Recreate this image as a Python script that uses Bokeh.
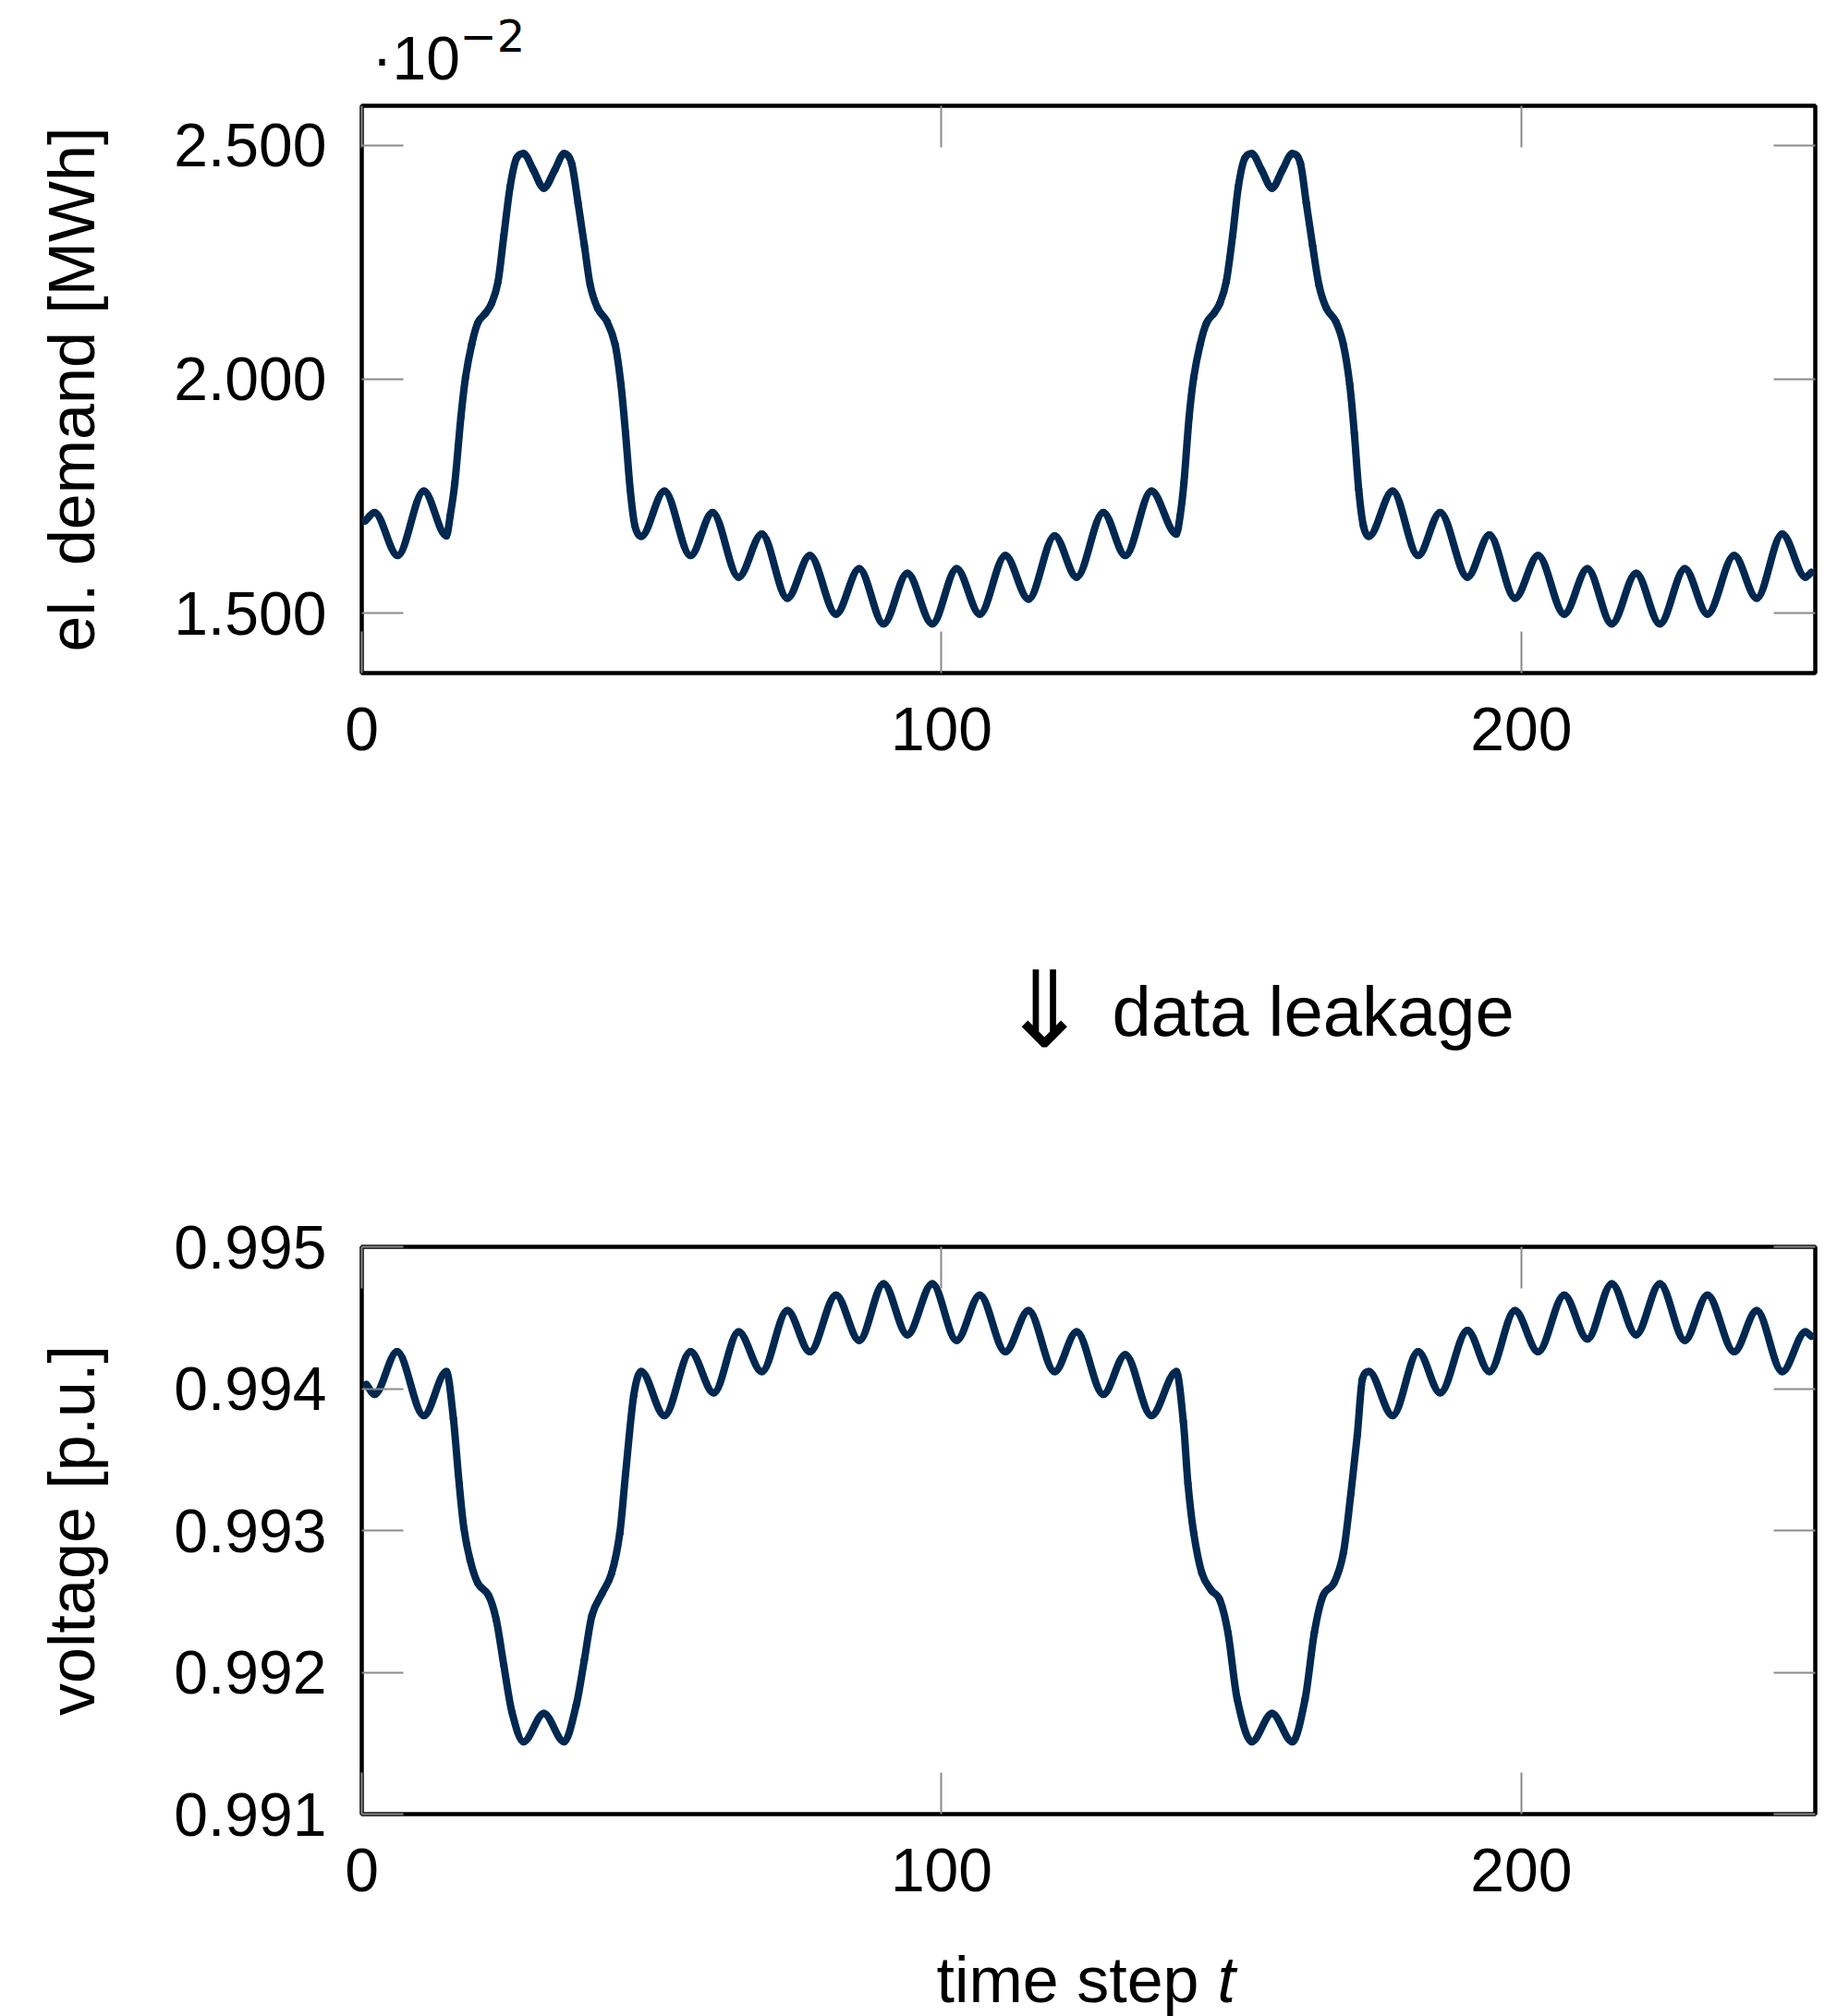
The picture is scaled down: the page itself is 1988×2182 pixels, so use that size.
from bokeh.plotting import figure
from bokeh.models import (Range1d, FixedTicker, LinearAxis, PrintfTickFormatter,
                          ColumnDataSource)
from bokeh.core.properties import value
from bokeh.layouts import column
from bokeh.embed import file_html
from bokeh.resources import INLINE

# ---------------- data ----------------
x_ticks = [0, 100, 200]
demand_ticks = [1.5, 2.0, 2.5]
voltage_ticks = [0.991, 0.992, 0.993, 0.994, 0.995]

demand_t = [0.6, 2.2, 6.2, 10.7, 14.6, 15.25, 16.05, 17.1, 17.9, 18.96, 20.0, 21.35,
            22.4, 23.5, 24.5, 25.6, 26.7, 27.9, 29.6, 31.4, 33.3, 34.9, 36.2, 37.3,
            38.4, 39.4, 40.7, 42.3, 43.7, 44.7, 45.5, 46.3, 47.1, 48.2, 52.2, 56.7,
            60.5, 65.0, 69.0, 73.4, 77.3, 81.8, 85.8, 90.0, 94.1, 98.4, 102.6, 106.6,
            111.0, 115.0, 119.5, 123.3, 127.9, 131.7, 136.2, 140.5, 141.15, 141.8,
            142.7, 143.5, 144.6, 145.7, 147.0, 148.0, 149.1, 150.2, 151.2, 152.3,
            153.5, 155.2, 157.0, 158.8, 160.5, 161.9, 162.9, 164.0, 165.1, 166.4,
            168.0, 169.3, 170.4, 171.2, 171.95, 172.75, 173.7, 177.8, 182.2, 186.0,
            190.7, 194.5, 198.9, 202.9, 207.4, 211.4, 215.6, 219.8, 223.9, 228.2,
            232.1, 236.7, 240.6, 245.0, 249.0, 250.0]
demand_v = [1.697, 1.715, 1.623, 1.761, 1.665, 1.708, 1.778, 1.919, 2.004, 2.074, 2.120,
            2.141, 2.162, 2.208, 2.306, 2.412, 2.472, 2.482, 2.447, 2.408, 2.447, 2.482,
            2.461, 2.377, 2.285, 2.201, 2.151, 2.123, 2.074, 1.989, 1.884, 1.764, 1.687,
            1.664, 1.761, 1.623, 1.715, 1.577, 1.669, 1.532, 1.623, 1.498, 1.595, 1.477,
            1.585, 1.477, 1.595, 1.498, 1.623, 1.530, 1.665, 1.577, 1.715, 1.623, 1.761,
            1.669, 1.708, 1.778, 1.919, 2.004, 2.074, 2.120, 2.141, 2.162, 2.208, 2.306,
            2.412, 2.472, 2.482, 2.447, 2.408, 2.447, 2.482, 2.461, 2.377, 2.285, 2.201,
            2.151, 2.123, 2.074, 1.989, 1.884, 1.764, 1.687, 1.664, 1.761, 1.623, 1.715,
            1.577, 1.667, 1.532, 1.623, 1.498, 1.595, 1.477, 1.585, 1.477, 1.595, 1.498,
            1.623, 1.532, 1.669, 1.577, 1.587]

voltage_t = [0.8, 2.2, 6.1, 10.7, 14.6, 15.8, 16.8, 17.6, 18.7, 20.0, 21.9, 23.2, 24.5,
             25.9, 27.9, 31.4, 34.9, 37.0, 38.4, 39.7, 41.5, 43.1, 44.5, 45.5, 46.9, 48.2,
             52.2, 56.7, 60.7, 65.0, 69.0, 73.4, 77.3, 81.8, 85.8, 90.0, 94.1, 98.4,
             102.6, 106.6, 111.0, 115.0, 119.5, 123.3, 127.9, 131.7, 136.2, 140.5, 141.7,
             142.5, 143.5, 144.9, 146.5, 148.0, 149.4, 151.0, 153.5, 157.0, 160.5, 162.7,
             164.3, 165.8, 167.7, 169.3, 170.6, 171.7, 172.6, 173.7, 177.8, 182.2, 186.0,
             190.7, 194.5, 198.9, 202.9, 207.4, 211.4, 215.6, 219.8, 223.9, 228.2, 232.1,
             236.7, 240.6, 245.0, 249.0, 250.0]
voltage_v = [0.99403, 0.99396, 0.99426, 0.99381, 0.99412, 0.99379, 0.99333, 0.99302,
             0.99279, 0.99263, 0.99254, 0.99237, 0.99205, 0.99172, 0.99151, 0.99171,
             0.99151, 0.99177, 0.99209, 0.99240, 0.99256, 0.99270, 0.99298, 0.99340,
             0.99395, 0.99412, 0.99381, 0.99426, 0.99397, 0.99440, 0.99412, 0.99455,
             0.99426, 0.99466, 0.99434, 0.99474, 0.99438, 0.99474, 0.99434, 0.99466,
             0.99426, 0.99455, 0.99412, 0.99440, 0.99396, 0.99424, 0.99381, 0.99412,
             0.99377, 0.99333, 0.99298, 0.99270, 0.99258, 0.99251, 0.99228, 0.99181,
             0.99151, 0.99171, 0.99151, 0.99181, 0.99228, 0.99254, 0.99263, 0.99284,
             0.99326, 0.99367, 0.99407, 0.99412, 0.99381, 0.99426, 0.99397, 0.99441,
             0.99412, 0.99455, 0.99426, 0.99466, 0.99435, 0.99474, 0.99438, 0.99474,
             0.99434, 0.99466, 0.99426, 0.99455, 0.99412, 0.99440, 0.99437]

# ---------------- style ----------------
LINE_COLOR = "#002850"
FONT = "Liberation Sans"
TICK_COLOR = "#8a8a8a"
TICK_LEN = 45
W = 1988
LEFT = 391      # frame left edge (px)
RIGHT = 24      # space right of the frame (px)


def smooth_segments(t, v):
    """Cubic Bezier control points (monotone Hermite) so the browser draws a smooth curve."""
    n = len(t)
    d = [(v[i + 1] - v[i]) / (t[i + 1] - t[i]) for i in range(n - 1)]
    m = []
    for i in range(n):
        if i == 0:
            m.append(d[0])
        elif i == n - 1:
            m.append(d[-1])
        elif d[i - 1] * d[i] <= 0:
            m.append(0.0)
        else:
            s = (v[i + 1] - v[i - 1]) / (t[i + 1] - t[i - 1])
            lim = 3 * min(abs(d[i - 1]), abs(d[i]))
            if abs(s) > lim:
                s = lim if s > 0 else -lim
            m.append(s)
    seg = dict(x0=[], y0=[], x1=[], y1=[], cx0=[], cy0=[], cx1=[], cy1=[])
    for i in range(n - 1):
        h = t[i + 1] - t[i]
        seg["x0"].append(t[i]); seg["y0"].append(v[i])
        seg["x1"].append(t[i + 1]); seg["y1"].append(v[i + 1])
        seg["cx0"].append(t[i] + h / 3); seg["cy0"].append(v[i] + m[i] * h / 3)
        seg["cx1"].append(t[i + 1] - h / 3); seg["cy1"].append(v[i + 1] - m[i + 1] * h / 3)
    return ColumnDataSource(seg)


def style_axis(ax, ticks, fmt=None, labels=True):
    ax.ticker = FixedTicker(ticks=ticks)
    ax.major_tick_in = TICK_LEN
    ax.major_tick_out = 0
    ax.minor_tick_line_color = None
    ax.axis_line_color = None
    ax.major_tick_line_color = TICK_COLOR
    ax.major_tick_line_width = 2
    if fmt is not None:
        ax.formatter = fmt
    if labels:
        ax.major_label_text_font = FONT
        ax.major_label_text_font_size = "66px"
        ax.major_label_text_color = "black"
    else:
        ax.major_label_text_color = None
        ax.major_label_text_font_size = "1px"
        ax.major_label_standoff = 0


def make_fig(height, top, bottom, yr, yticks, ylabel):
    p = figure(width=W, height=height, x_range=Range1d(0, 250.7), y_range=Range1d(*yr),
               output_backend="svg", toolbar_location=None,
               min_border_left=LEFT, min_border_right=RIGHT,
               min_border_top=top, min_border_bottom=bottom)
    p.xgrid.visible = False
    p.ygrid.visible = False
    p.outline_line_color = "black"
    p.outline_line_width = 4.5
    p.background_fill_color = "white"
    p.border_fill_color = "white"
    style_axis(p.xaxis[0], x_ticks)
    p.xaxis[0].major_label_standoff = 37
    style_axis(p.yaxis[0], yticks, PrintfTickFormatter(format="%.3f"))
    p.yaxis[0].major_label_standoff = 38
    p.yaxis[0].axis_label = ylabel
    p.yaxis[0].axis_label_text_font = FONT
    p.yaxis[0].axis_label_text_font_size = "70px"
    p.yaxis[0].axis_label_text_font_style = "normal"
    p.yaxis[0].axis_label_text_color = "black"
    p.yaxis[0].axis_label_standoff = 68
    ra = LinearAxis()
    style_axis(ra, yticks, labels=False)
    p.add_layout(ra, "right")
    ta = LinearAxis()
    style_axis(ta, x_ticks, labels=False)
    p.add_layout(ta, "above")
    return p


def strip(height):
    """Blank band for free-standing texts; its frame lines up with the plot frames,
    so x is in page pixels and y is measured from the band's top."""
    s = figure(width=W, height=height, x_range=Range1d(LEFT, W - RIGHT),
               y_range=Range1d(height, 0),
               output_backend="svg", toolbar_location=None,
               x_axis_location=None, y_axis_location=None,
               min_border_left=LEFT, min_border_right=RIGHT,
               min_border_top=0, min_border_bottom=0)
    s.xgrid.visible = False
    s.ygrid.visible = False
    s.outline_line_color = None
    s.background_fill_color = "white"
    s.border_fill_color = "white"
    return s


def put_text(s, x, y, txt, size, font=FONT, style="normal", align="left",
             baseline="alphabetic"):
    s.text(x=[x], y=[y], text=[txt], text_font=value(font), text_font_size=value(size),
           text_font_style=style, text_align=align, text_baseline=baseline,
           text_color="black")


# ---------------- band above the first plot: axis multiplier ----------------
s_top = strip(100)
put_text(s_top, 402, 62, "·10", "66px")
put_text(s_top, 497, 38, "−2", "48px", font="DejaVu Sans")

# ---------------- top: electric demand ----------------
p1 = make_fig(900, 14, 272, (1.372, 2.584), demand_ticks, "el. demand [MWh]")
p1.bezier(x0="x0", y0="y0", x1="x1", y1="y1", cx0="cx0", cy0="cy0", cx1="cx1", cy1="cy1",
          source=smooth_segments(demand_t, demand_v), line_color=LINE_COLOR,
          line_width=8, line_cap="round")

# ---------------- middle band: data leakage arrow ----------------
s_mid = strip(200)
put_text(s_mid, 1130, 92, "⇓", "115px", font="DejaVu Sans", align="center",
         baseline="middle")
put_text(s_mid, 1203, 94, "data leakage", "76px")

# ---------------- bottom: voltage ----------------
p2 = make_fig(880, 149, 117, (0.991, 0.995), voltage_ticks, "voltage [p.u.]")
p2.bezier(x0="x0", y0="y0", x1="x1", y1="y1", cx0="cx0", cy0="cy0", cx1="cx1", cy1="cy1",
          source=smooth_segments(voltage_t, voltage_v), line_color=LINE_COLOR,
          line_width=8, line_cap="round")

# ---------------- band below: x-axis title ----------------
s_bot = strip(102)
put_text(s_bot, 1013, 62, "time step", "70px")
put_text(s_bot, 1317, 62, "t", "70px", style="italic")

layout = column(s_top, p1, s_mid, p2, s_bot, spacing=0)
open("out.html", "w").write(file_html(layout, INLINE))
